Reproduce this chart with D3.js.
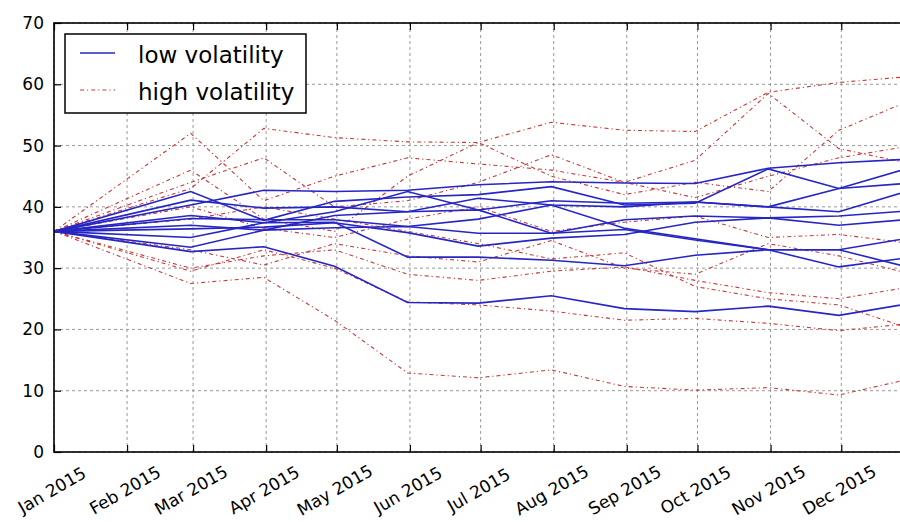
<!DOCTYPE html>
<html>
<head>
<meta charset="utf-8">
<script src="https://cdn.jsdelivr.net/npm/d3@7"></script>
<style>
  body { margin: 0; background: #fff; }
  svg { display: block; }
  text { font-family: "DejaVu Sans", sans-serif; fill: #000; }
</style>
</head>
<body>
<svg id="chart" width="900" height="522"></svg>
<script>
// ---- data ----
const dates = ["2015-01-01","2015-02-28","2015-03-31","2015-04-30","2015-05-31","2015-06-30",
               "2015-07-31","2015-08-31","2015-09-30","2015-10-31","2015-11-30","2015-12-31"];
const tickMonths = ["2015-01-01","2015-02-01","2015-03-01","2015-04-01","2015-05-01","2015-06-01",
                    "2015-07-01","2015-08-01","2015-09-01","2015-10-01","2015-11-01","2015-12-01"];
const yTicks = [0, 10, 20, 30, 40, 50, 60, 70];
const legendLabels = ["low volatility", "high volatility"];

const low1  = [36, 40.3, 42.7, 42.5, 42.7, 43.6, 44.1, 43.9, 43.8, 46.3, 47.2, 47.8];
const low2  = [36, 42.5, 37.8, 40.9, 41.6, 42.0, 43.3, 40.3, 40.6, 46.2, 43.0, 43.9];
const low3  = [36, 41.1, 39.8, 40.0, 39.2, 41.4, 40.3, 40.0, 40.8, 40.0, 43.0, 46.5];
const low4  = [36, 38.6, 37.4, 39.2, 42.5, 39.5, 41.0, 40.6, 40.8, 40.0, 39.2, 42.8];
const low5  = [36, 38.1, 37.9, 37.9, 36.8, 38.0, 40.3, 36.5, 34.8, 33.0, 30.2, 31.8];
const low6  = [36, 37.0, 36.2, 36.6, 36.8, 35.7, 35.7, 37.9, 38.5, 38.2, 38.5, 39.4];
const low7  = [36, 36.4, 36.7, 37.4, 35.8, 33.6, 34.9, 35.5, 37.5, 38.2, 37.0, 38.0];
const low8  = [36, 35.0, 37.4, 37.5, 31.8, 31.8, 31.3, 30.4, 32.1, 33.0, 33.0, 35.0];
const low9  = [36, 33.4, 36.2, 38.6, 39.2, 39.5, 35.7, 36.3, 34.6, 33.0, 33.0, 30.0];
const low10 = [36, 32.7, 33.5, 30.3, 24.4, 24.3, 25.5, 23.4, 22.9, 23.8, 22.3, 24.3];

const high1  = [36, 43.0, 52.8, 51.3, 50.6, 50.5, 53.8, 52.5, 52.3, 58.7, 60.3, 61.3];
const high2  = [36, 52.0, 41.0, 45.0, 48.0, 47.0, 46.0, 44.0, 47.6, 58.5, 49.5, 47.0];
const high3  = [36, 46.0, 38.0, 36.0, 45.0, 50.5, 45.0, 42.0, 44.0, 42.5, 52.5, 57.5];
const high4  = [36, 44.0, 48.0, 40.0, 41.0, 44.0, 48.5, 44.0, 41.5, 45.0, 48.0, 50.0];
const high5  = [36, 40.0, 36.5, 35.0, 38.0, 40.0, 36.0, 37.5, 38.5, 35.0, 35.5, 34.0];
const high6  = [36, 33.0, 30.5, 34.0, 32.0, 31.0, 34.5, 30.0, 29.0, 34.0, 32.0, 29.0];
const high7  = [36, 30.0, 32.0, 33.0, 29.0, 28.0, 29.5, 30.2, 28.0, 26.0, 25.0, 27.0];
const high8  = [36, 29.5, 33.0, 30.0, 24.5, 24.0, 23.0, 21.5, 21.8, 21.0, 19.8, 21.0];
const high9  = [36, 27.5, 28.5, 21.5, 12.9, 12.1, 13.4, 10.7, 10.1, 10.5, 9.3, 12.0];
const high10 = [36, 38.0, 40.0, 38.0, 36.0, 34.0, 31.5, 32.5, 27.0, 25.0, 24.0, 20.0];

const lowSeries  = [low1, low2, low3, low4, low5, low6, low7, low8, low9, low10];
const highSeries = [high1, high2, high3, high4, high5, high6, high7, high8, high9, high10];

// ---- layout ----
const svg = d3.select("#chart");
const pL = 54, pT = 23, pB = 452, pR = 912;
const parse = d3.timeParse("%Y-%m-%d");
const xDates = dates.map(parse);

const x = d3.scaleTime().domain([parse("2015-01-01"), parse("2015-12-31")]).range([pL, pR]);
const y = d3.scaleLinear().domain([0, 70]).range([pB, pT]);

svg.append("defs").append("clipPath").attr("id", "clip")
  .append("rect").attr("x", pL).attr("y", pT).attr("width", pR - pL).attr("height", pB - pT);

// grid
const grid = svg.append("g");
tickMonths.map(parse).forEach(d => {
  grid.append("line").attr("x1", x(d)).attr("x2", x(d)).attr("y1", pT).attr("y2", pB)
    .attr("stroke", "#999").attr("stroke-width", 1).attr("stroke-dasharray", "3,3");
});
yTicks.forEach(v => {
  grid.append("line").attr("x1", pL).attr("x2", pR).attr("y1", y(v)).attr("y2", y(v))
    .attr("stroke", "#999").attr("stroke-width", 1).attr("stroke-dasharray", "3,3");
});

// lines
const line = d3.line().x((d, i) => x(xDates[i])).y(d => y(d));
const plot = svg.append("g").attr("clip-path", "url(#clip)");
highSeries.forEach(s => {
  plot.append("path").attr("d", line(s)).attr("fill", "none")
    .attr("stroke", "#c83a3a").attr("stroke-width", 1.1).attr("stroke-dasharray", "4,3,1.2,3");
});
lowSeries.forEach(s => {
  plot.append("path").attr("d", line(s)).attr("fill", "none")
    .attr("stroke", "#2626c4").attr("stroke-width", 1.6);
});

// axes (ticks inside)
const xAxisB = d3.axisBottom(x).tickValues(tickMonths.map(parse)).tickSize(-7).tickFormat("");
const xAxisT = d3.axisTop(x).tickValues(tickMonths.map(parse)).tickSize(-7).tickFormat("");
const yAxisL = d3.axisLeft(y).tickValues(yTicks).tickSize(-7).tickFormat("");
svg.append("g").attr("transform", `translate(0,${pB})`).call(xAxisB);
svg.append("g").attr("transform", `translate(0,${pT})`).call(xAxisT);
svg.append("g").attr("transform", `translate(${pL},0)`).call(yAxisL);
svg.selectAll(".domain").attr("stroke", "none");
svg.selectAll(".tick line").attr("stroke", "#000").attr("stroke-width", 1.2);

// frame
svg.append("rect").attr("x", pL).attr("y", pT).attr("width", pR - pL).attr("height", pB - pT)
  .attr("fill", "none").attr("stroke", "#000").attr("stroke-width", 1.6);

// y labels
yTicks.forEach(v => {
  svg.append("text").attr("x", pL - 10).attr("y", y(v)).attr("text-anchor", "end")
    .attr("dominant-baseline", "central").attr("font-size", 17).text(v);
});

// x labels
const fmt = d3.timeFormat("%b %Y");
tickMonths.map(parse).forEach(d => {
  const cx = x(d) - 2, cy = 490;
  svg.append("text").attr("transform", `translate(${cx},${cy}) rotate(-30)`)
    .attr("text-anchor", "middle").attr("dominant-baseline", "central")
    .attr("font-size", 17).text(fmt(d));
});

// legend
const lg = svg.append("g");
lg.append("rect").attr("x", 65).attr("y", 34).attr("width", 241).attr("height", 79)
  .attr("fill", "#fff").attr("stroke", "#000").attr("stroke-width", 1.5);
lg.append("line").attr("x1", 80).attr("x2", 115).attr("y1", 53).attr("y2", 53)
  .attr("stroke", "#2626c4").attr("stroke-width", 1.6);
lg.append("line").attr("x1", 80).attr("x2", 115).attr("y1", 90).attr("y2", 90)
  .attr("stroke", "#c83a3a").attr("stroke-width", 1.1).attr("stroke-dasharray", "4,3,1.2,3");
lg.append("text").attr("x", 138).attr("y", 63).attr("font-size", 23).text(legendLabels[0]);
lg.append("text").attr("x", 138).attr("y", 100).attr("font-size", 23).text(legendLabels[1]);
</script>
</body>
</html>
